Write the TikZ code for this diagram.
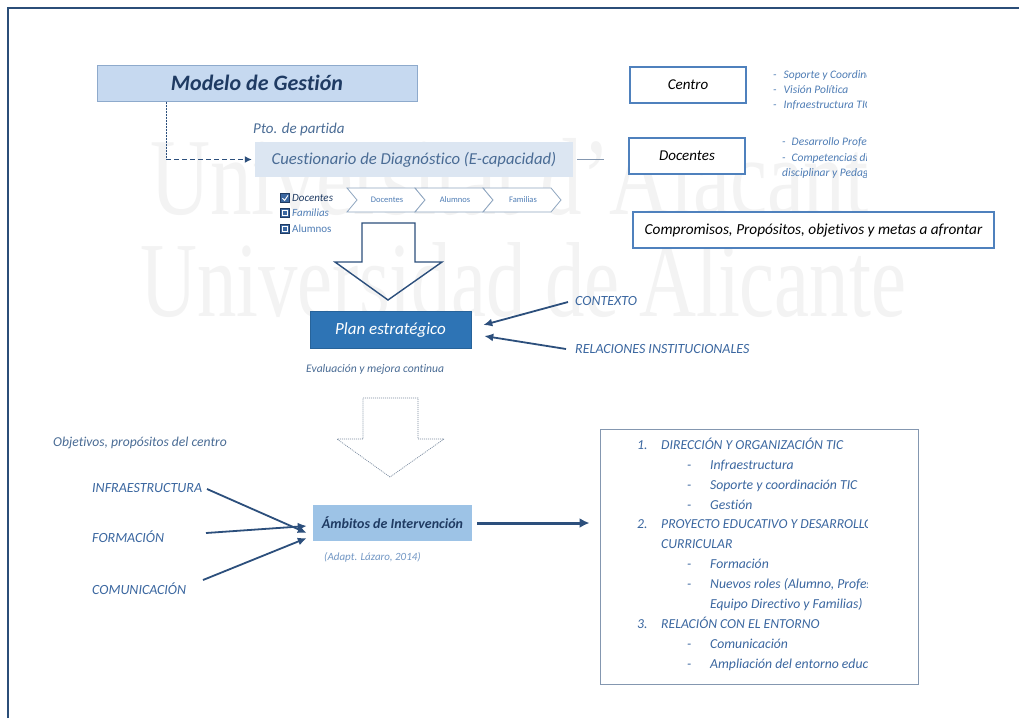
\documentclass[tikz,border=0pt]{standalone}
\usepackage{fontspec}
\setmainfont{Carlito}[Ligatures=NoCommon]
\newfontfamily\wmfont{Liberation Serif}
\usetikzlibrary{arrows.meta}

\definecolor{framecol}{HTML}{2B4E78}
\definecolor{navy}{HTML}{1F3B63}
\definecolor{txtblue}{HTML}{3B67A0}
\definecolor{softblue}{HTML}{4A6C95}
\definecolor{lightblue}{HTML}{4F7DB5}
\definecolor{modfill}{HTML}{C6D9F0}
\definecolor{modline}{HTML}{8EAACC}
\definecolor{cuestfill}{HTML}{DCE6F2}
\definecolor{planfill}{HTML}{2E74B5}
\definecolor{ambfill}{HTML}{9DC3E6}
\definecolor{boxline}{HTML}{4F81BD}
\definecolor{arrowcol}{HTML}{2C4F7C}
\definecolor{greyline}{HTML}{8497B0}
\definecolor{chevline}{HTML}{8FA6C0}
\definecolor{wmgrey}{HTML}{F3F3F3}

\tikzset{
  lbl/.style={inner sep=0pt, anchor=west, text=txtblue, font=\fontsize{14}{16}\selectfont\itshape},
  small/.style={inner sep=0pt, anchor=base west, text=lightblue, font=\fontsize{11.5}{13}\selectfont\itshape},
  item/.style={inner sep=0pt, anchor=base west, text=txtblue, font=\fontsize{13.7}{16}\selectfont\itshape},
  whitebox/.style={draw=boxline, line width=1.4pt, fill=white, text=black,
    font=\fontsize{15}{18}\selectfont\itshape, inner sep=0pt},
  inarrow/.style={draw=arrowcol, line width=1.8pt, -{Latex[length=9pt,width=8pt]}},
  chevron/.style={draw=chevline, line width=0.8pt, fill=white},
  chevtext/.style={inner sep=0pt, text=lightblue, font=\fontsize{8.5}{10}\selectfont},
  tick/.style={fill=txtblue, draw=navy, line width=0.4pt},
}

\begin{document}
\begin{tikzpicture}[x=1pt, y=-1pt]
\useasboundingbox (0,0) rectangle (1019,718);
\fill[white] (0,0) rectangle (1019,718);

% faint institutional watermark
\node[inner sep=0pt, anchor=south west, text=wmgrey] (wm1) at (150,216)
  {\resizebox{718pt}{76pt}{\wmfont Universitat d’Alacant}};
\node[inner sep=0pt, anchor=south west, text=wmgrey] (wm2) at (140,318)
  {\resizebox{766pt}{74pt}{\wmfont Universidad de Alicante}};

% page frame
\draw[framecol, line width=2.5pt] (8,718) -- (8,8) -- (1019,8);

% ---------- upper part ----------
\node[draw=modline, line width=1pt, fill=modfill, minimum width=320pt, minimum height=36pt,
  inner sep=0pt, text=navy, font=\fontsize{22}{25}\selectfont\bfseries\itshape]
  (modelo) at (257,83) {Modelo de Gestión};

\node[lbl, text=softblue, font=\fontsize{15}{17}\selectfont\itshape] (pto) at (253,129) {Pto. de partida};

\node[fill=cuestfill, minimum width=318pt, minimum height=35pt, inner sep=0pt,
  text=softblue, font=\fontsize{16.7}{19}\selectfont\itshape]
  (cuest) at (414,159.5) {Cuestionario de Diagnóstico (E-capacidad)};

\draw[arrowcol, line width=0.8pt, dash pattern=on 2pt off 1pt]
  ([xshift=-91pt]modelo.south) -- ([xshift=-91pt]modelo.south |- cuest.west);
\draw[arrowcol, line width=1.6pt, dash pattern=on 5pt off 3pt, -{Latex[length=7pt,width=7pt]}]
  ([xshift=-91pt]modelo.south |- cuest.west) -- ([xshift=-3pt]cuest.west);

\node[whitebox, minimum width=116pt, minimum height=36pt] (centro) at (688,85) {Centro};
\node[whitebox, minimum width=116pt, minimum height=36pt] (docentes) at (687,156) {Docentes};
\node[whitebox, minimum width=361pt, minimum height=36pt, font=\fontsize{15.3}{18}\selectfont\itshape]
  (comp) at (813.5,230) {Compromisos, Propósitos, objetivos y metas a afrontar};

\draw[greyline, line width=1pt] ([xshift=4pt]cuest.east) -- ([xshift=-24pt]docentes.west |- cuest.east);

\begin{scope}
  \clip (0,0) rectangle (866,718);
  \node[small] (c1) at (773,78) {-\hspace{7pt}Soporte y Coordinación};
  \node[small] (c2) at (773,93) {-\hspace{7pt}Visión Política};
  \node[small] (c3) at (773,108) {-\hspace{7pt}Infraestructura TIC};
  \node[small] (d1) at (782,145) {-\hspace{6pt}Desarrollo Profesional};
  \node[small] (d2) at (782,161) {-\hspace{6pt}Competencias digitales,};
  \node[small] (d3) at (782,176) {disciplinar y Pedagógica};
\end{scope}

% check list
\fill[tick] (280.5,193.5) rectangle (289.5,202.5);
\draw[white, line width=0.9pt] (282.5,198.2) -- (284.6,200.4) -- (288,195.4);
\fill[tick] (280.5,208.5) rectangle (289.5,217.5);
\draw[white, line width=0.8pt] (282.8,210.8) rectangle (287.2,215.2);
\fill[tick] (280.5,224.5) rectangle (289.5,233.5);
\draw[white, line width=0.8pt] (282.8,226.8) rectangle (287.2,231.2);
\node[small, anchor=west, text=navy, font=\fontsize{11}{12}\selectfont\itshape] (lDoc) at (292,198) {Docentes};
\node[small, anchor=west, font=\fontsize{11}{12}\selectfont\itshape] (lFam) at (292,213) {Familias};
\node[small, anchor=west, font=\fontsize{11}{12}\selectfont] (lAlu) at (292,229) {Alumnos};

% process chevrons
\foreach \x/\name/\t in {347/chA/Docentes, 415/chB/Alumnos, 483/chC/Familias}{
  \draw[chevron] (\x,188) -- (\x+68,188) -- (\x+78,200) -- (\x+68,212) -- (\x,212) -- (\x+10,200) -- cycle;
  \node[chevtext] (\name) at (\x+40,200) {\t};
}

% hollow arrow into the strategic plan
\draw[arrowcol, line width=1.4pt, line join=miter]
  (362,223) -- (415,223) -- (415,262) -- (442,262) -- (388,300) -- (335,262) -- (362,262) -- cycle;

\node[fill=planfill, draw=planfill!85!black, line width=0.6pt, minimum width=161pt, minimum height=37pt,
  inner sep=0pt, text=white, font=\fontsize{17}{20}\selectfont\itshape]
  (plan) at (390.5,330) {Plan estratégico};

\node[lbl] (ctx) at (575,301) {CONTEXTO};
\node[lbl] (rel) at (575,349) {RELACIONES INSTITUCIONALES};
\coordinate (ctxS) at (568,302);
\coordinate (relS) at (566,349);
\draw[inarrow] (ctxS) -- ([xshift=12pt,yshift=5pt]plan.east);
\draw[inarrow] (relS) -- ([xshift=13pt,yshift=-6pt]plan.east);

\node[lbl, text=softblue, font=\fontsize{11.6}{14}\selectfont\itshape] (eval) at (306,369)
  {Evaluación y mejora continua};

% dotted hollow arrow
\draw[greyline!90!black, line width=0.7pt, dash pattern=on 1pt off 1pt]
  (363,398) -- (418,398) -- (418,439) -- (444,439) -- (390,477) -- (337,439) -- (363,439) -- cycle;

% ---------- lower part ----------
\node[lbl, text=softblue, font=\fontsize{13.6}{16}\selectfont\itshape] (obj) at (53,443) {Objetivos, propósitos del centro};
\node[lbl] (infra) at (92,488) {INFRAESTRUCTURA};
\node[lbl] (form) at (92,537) {FORMACIÓN};
\node[lbl] (comu) at (92,589) {COMUNICACIÓN};

\node[fill=ambfill, minimum width=159pt, minimum height=36pt, inner sep=0pt,
  text=navy, font=\fontsize{14}{16}\selectfont\bfseries\itshape]
  (ambitos) at (392.5,523) {Ámbitos de Intervención};
\node[inner sep=0pt, text=lightblue!80!white, font=\fontsize{11}{13}\selectfont\itshape]
  (adapt) at (372.5,557) {(Adapt. Lázaro, 2014)};

\coordinate (infraS) at (207,489);
\coordinate (formS) at (206,533);
\coordinate (comuS) at (203,580);
\draw[inarrow] (infraS) -- ([xshift=-6pt,yshift=-10pt]ambitos.west);
\draw[inarrow] (formS) -- ([xshift=-6pt,yshift=-3pt]ambitos.west);
\draw[inarrow] (comuS) -- ([xshift=-6pt,yshift=-15pt]ambitos.west);

\node[draw=greyline, line width=1pt, minimum width=318pt, minimum height=255pt, inner sep=0pt]
  (areas) at (759,556.5) {};

\draw[arrowcol, line width=3pt, -{Latex[length=10pt,width=10pt]}]
  ([xshift=5pt]ambitos.east) -- ([xshift=-10pt]areas.west |- ambitos.east);

\begin{scope}
  \clip (0,0) rectangle (867,718);
  \node[item] (n1) at (637,449) {1.};
  \node[item] (h1) at (661,449) {DIRECCIÓN Y ORGANIZACIÓN TIC};
  \node[item] (s11d) at (687,469) {-};
  \node[item] (s11) at (710,469) {Infraestructura};
  \node[item] (s12d) at (687,489) {-};
  \node[item] (s12) at (710,489) {Soporte y coordinación TIC};
  \node[item] (s13d) at (687,509) {-};
  \node[item] (s13) at (710,509) {Gestión};
  \node[item] (n2) at (637,528) {2.};
  \node[item] (h2) at (661,528) {PROYECTO EDUCATIVO Y DESARROLLO};
  \node[item] (h2b) at (661,548) {CURRICULAR};
  \node[item] (s21d) at (687,568) {-};
  \node[item] (s21) at (710,568) {Formación};
  \node[item] (s22d) at (687,588) {-};
  \node[item] (s22) at (710,588) {Nuevos roles (Alumno, Profesorado,};
  \node[item] (s22b) at (710,608) {Equipo Directivo y Familias)};
  \node[item] (n3) at (637,628) {3.};
  \node[item] (h3) at (661,628) {RELACIÓN CON EL ENTORNO};
  \node[item] (s31d) at (687,648) {-};
  \node[item] (s31) at (710,648) {Comunicación};
  \node[item] (s32d) at (687,668) {-};
  \node[item] (s32) at (710,668) {Ampliación del entorno educativo};
\end{scope}

\end{tikzpicture}
\end{document}
